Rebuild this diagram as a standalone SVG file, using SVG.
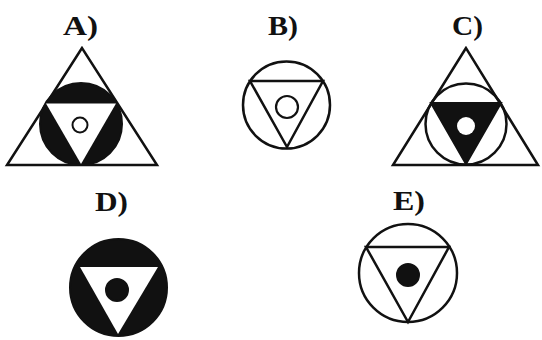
<svg xmlns="http://www.w3.org/2000/svg" width="542" height="340" viewBox="0 0 542 340">
<style>
.lbl{font-family:"Liberation Serif","Times New Roman",serif;font-weight:bold;font-size:27px;fill:#111}
.ln{fill:none;stroke:#111;stroke-width:2.5;stroke-linejoin:miter}
.blk{fill:#111;stroke:#111;stroke-width:2}
.wht{fill:#fff;stroke:#111;stroke-width:2.5}
.whtn{fill:#fff;stroke:none}
</style>
<rect width="542" height="340" fill="#fff"/>
<g id="A">
<text class="lbl" x="63" y="35" textLength="35" lengthAdjust="spacingAndGlyphs">A)</text>
<circle class="blk" cx="81" cy="124" r="41"/>
<polygon class="ln" points="82,48 7,165 157,165"/>
<polygon class="whtn" points="46,103.5 116,103.5 81,164"/>
<circle class="wht" cx="80" cy="125" r="7.5" style="stroke-width:2"/>
</g>
<g id="B">
<text class="lbl" x="268" y="35" textLength="30" lengthAdjust="spacingAndGlyphs">B)</text>
<circle class="ln" cx="286.5" cy="105" r="43.5"/>
<polygon class="ln" points="250,81 323,81 287,147"/>
<circle class="ln" cx="287" cy="107" r="11" style="stroke-width:2.2"/>
</g>
<g id="C">
<text class="lbl" x="452" y="35" textLength="31" lengthAdjust="spacingAndGlyphs">C)</text>
<polygon class="ln" points="466,48 393,165 538,165"/>
<circle class="ln" cx="466" cy="124" r="40.5"/>
<polygon class="blk" points="431,103 501,103 466,164"/>
<circle class="whtn" cx="466" cy="126" r="9"/>
</g>
<g id="D">
<text class="lbl" x="95" y="211" textLength="33" lengthAdjust="spacingAndGlyphs">D)</text>
<circle class="blk" cx="118.5" cy="287.5" r="48.5"/>
<polygon class="whtn" points="80,267 158,267 118,334"/>
<circle class="blk" cx="117" cy="290" r="11"/>
</g>
<g id="E">
<text class="lbl" x="393" y="210" textLength="32" lengthAdjust="spacingAndGlyphs">E)</text>
<circle class="ln" cx="408" cy="273" r="49"/>
<polygon class="ln" points="366,247 449,247 408,322"/>
<circle class="blk" cx="408" cy="275" r="11"/>
</g>
</svg>
